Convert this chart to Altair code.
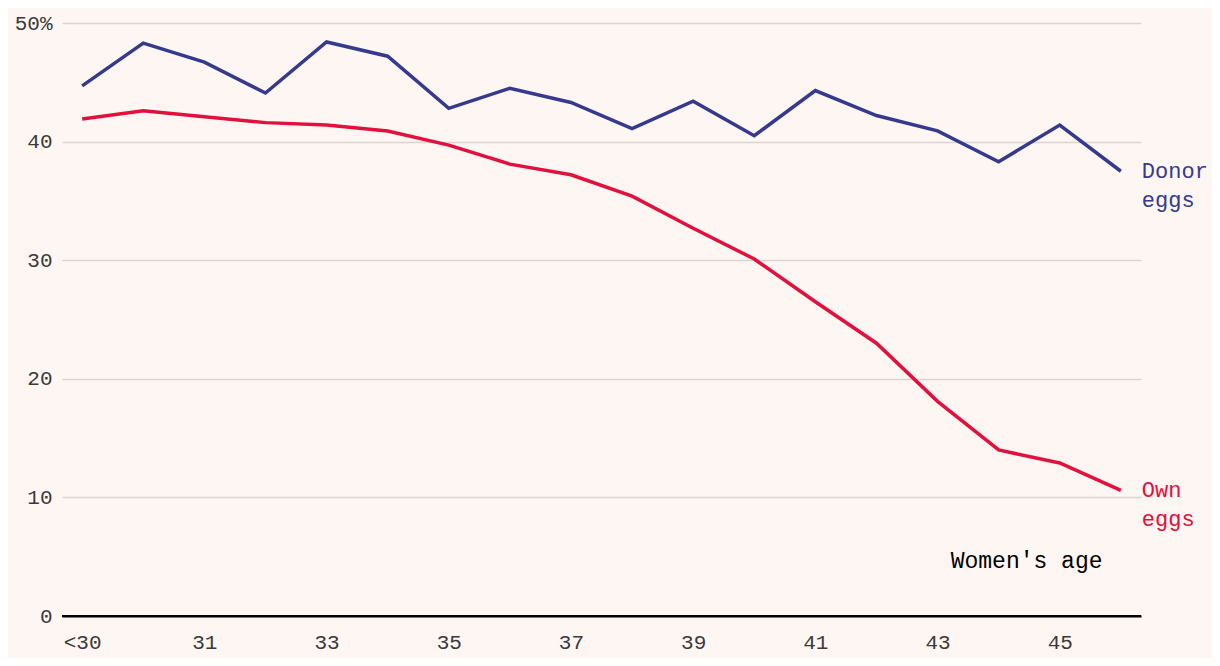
import altair as alt
import pandas as pd

ages = ["<30", "30", "31", "32", "33", "34", "35", "36", "37", "38", "39",
        "40", "41", "42", "43", "44", "45", "46"]
donor = [44.7, 48.3, 46.7, 44.1, 48.4, 47.2, 42.8, 44.5, 43.3, 41.1, 43.4,
         40.5, 44.3, 42.2, 40.9, 38.3, 41.4, 37.5]
own = [41.9, 42.6, 42.1, 41.6, 41.4, 40.9, 39.7, 38.1, 37.2, 35.4, 32.7,
       30.1, 26.5, 23.0, 18.1, 14.0, 12.9, 10.6]
series_names = ["Donor eggs", "Own eggs"]
series_colors = ["#353a8f", "#e2103c"]
label_lines = [["Donor", "eggs"], ["Own", "eggs"]]
x_tick_labels = ["<30", "31", "33", "35", "37", "39", "41", "43", "45"]
y_ticks = [0, 10, 20, 30, 40, 50]

rows = []
for a, d, o in zip(ages, donor, own):
    rows.append({"age": a, "value": d, "series": series_names[0]})
    rows.append({"age": a, "value": o, "series": series_names[1]})
df = pd.DataFrame(rows)

end_df = pd.DataFrame({
    "age": [ages[-1], ages[-1]],
    "value": [donor[-1], own[-1]],
    "series": series_names,
    "label": label_lines,
})

FONT = "Liberation Mono"
color_scale = alt.Scale(domain=series_names, range=series_colors)

x_enc = alt.X("age:O", sort=ages,
              scale=alt.Scale(type="point", padding=0.33),
              axis=alt.Axis(values=x_tick_labels, labelAngle=0, ticks=False,
                            domain=True, domainColor="#000000", domainWidth=2,
                            labelFont=FONT, labelFontSize=21, labelColor="#3a3a3a",
                            labelPadding=15,
                            title="Women's age", titleFont=FONT, titleFontSize=23,
                            titleFontWeight="normal", titleColor="#000000",
                            titleX=1040, titleY=-56, titleAlign="right",
                            titleBaseline="middle", grid=False))
y_enc = alt.Y("value:Q",
              scale=alt.Scale(domain=[0, 50], nice=False),
              axis=alt.Axis(values=y_ticks, ticks=False, domain=False,
                            grid=True, gridColor="#ddd3d0", gridWidth=1.3,
                            labelFont=FONT, labelFontSize=21, labelColor="#3a3a3a",
                            labelPadding=10,
                            labelExpr="datum.value == 50 ? '50%' : datum.label",
                            title=None))

lines = alt.Chart(df).mark_line(strokeWidth=3.5, strokeJoin="miter").encode(
    x=x_enc, y=y_enc,
    color=alt.Color("series:N", scale=color_scale, legend=None),
    detail="series:N",
)

zero_rule = alt.Chart(pd.DataFrame({"v": [0]})).mark_rule(
    color="#000000", strokeWidth=2).encode(y=alt.Y("v:Q"))

labels = alt.Chart(end_df).mark_text(
    align="left", baseline="middle", dx=21, font=FONT, fontSize=22,
    lineHeight=29).encode(
    x=alt.X("age:O", sort=ages),
    y=alt.Y("value:Q"),
    text="label",
    color=alt.Color("series:N", scale=color_scale, legend=None),
)

chart = alt.layer(lines, zero_rule, labels).properties(
    width=1079, height=593,
    background="#fdf6f3",
    padding={"left": 54, "top": 15, "right": 71, "bottom": 42},
    autosize=alt.AutoSizeParams(type="none"),
).configure_view(stroke=None)

chart.save("out.html", embed_options={"renderer": "svg", "actions": False})
